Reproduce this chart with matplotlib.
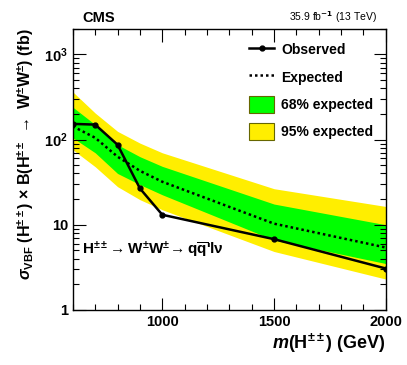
import numpy as np
import matplotlib.pyplot as plt

plt.rcParams['font.family'] = ['Liberation Sans', 'DejaVu Sans']
plt.rcParams['font.weight'] = 'bold'
plt.rcParams['axes.labelweight'] = 'bold'
plt.rcParams['mathtext.fontset'] = 'custom'
plt.rcParams['mathtext.rm'] = 'Liberation Sans:bold'
plt.rcParams['mathtext.bf'] = 'Liberation Sans:bold'
plt.rcParams['mathtext.it'] = 'Liberation Sans:italic:bold'
plt.rcParams['mathtext.sf'] = 'Liberation Sans:bold'

mass = [600, 700, 800, 900, 1000, 1500, 2000]
observed = [153, 150, 87, 26.7, 13.1, 6.77, 3.06]
expected = [143, 105, 63, 43, 32, 10.3, 5.4]
band68_lo = [105, 70, 40, 29.6, 22.5, 6.6, 3.5]
band68_hi = [240, 150, 87, 63, 48.5, 17.5, 10]
band95_lo = [76, 48, 28, 19.7, 15, 4.85, 2.3]
band95_hi = [363, 205, 125, 91, 70, 26.5, 16.4]

fig = plt.figure(figsize=(4.07, 3.65), dpi=100)
ax = fig.add_axes([0.179, 0.151, 0.769, 0.770])

ax.fill_between(mass, band95_lo, band95_hi, color='#ffee00', lw=0, label='95% expected')
ax.fill_between(mass, band68_lo, band68_hi, color='#00ff00', lw=0, label='68% expected')
ax.plot(mass, expected, color='black', ls=(0, (1, 1.2)), lw=1.8, label='Expected')
ax.plot(mass, observed, color='black', lw=1.8, marker='o', ms=3.5, label='Observed')

ax.set_yscale('log')
ax.set_xlim(600, 2000)
ax.set_ylim(1, 2000)
ax.set_xticks([1000, 1500, 2000])
ax.set_xticks(np.arange(600, 2001, 100), minor=True)
ax.set_yticks([1, 10, 100, 1000])
ax.set_yticklabels(['1', '10', r'$10^{2}$', r'$10^{3}$'])
ax.tick_params(which='both', direction='in', top=True, right=True, labelsize=10.5)
ax.tick_params(which='major', length=9, width=0.8)
ax.tick_params(which='minor', length=4.5, width=0.8)
for s in ax.spines.values():
    s.set_linewidth(1.0)

handles, labels = ax.get_legend_handles_labels()
order = [3, 2, 1, 0]
leg = ax.legend([handles[i] for i in order], [labels[i] for i in order],
                loc='upper right', bbox_to_anchor=(1.0, 1.0), frameon=False,
                fontsize=10, handlelength=1.8, handleheight=1.5, labelspacing=0.75,
                handletextpad=0.5, borderaxespad=0.5)
for p in leg.get_patches():
    p.set_edgecolor('#666600')
    p.set_linewidth(0.8)

ax.set_xlabel(r'$m$(H$^{\pm\pm}$) (GeV)', fontsize=13, ha='right', x=1.0, labelpad=2)
ax.set_ylabel(r'$\sigma_{\rm VBF}$ (H$^{\pm\pm}$) $\times$ B(H$^{\pm\pm}$ $\rightarrow$ W$^{\pm}$W$^{\pm}$) (fb)',
              fontsize=11.5, ha='right', y=1.0, labelpad=6)

ax.text(0.03, 1.012, 'CMS', transform=ax.transAxes, fontsize=10.5, fontweight='bold', va='bottom')
ax.text(0.97, 1.012, r'35.9 fb$^{-1}$ (13 TeV)', transform=ax.transAxes, fontsize=7.5,
        fontweight='normal', ha='right', va='bottom',
        math_fontfamily='dejavusans')
ax.text(0.03, 0.215, "H$^{\\pm\\pm}\\!\\rightarrow$W$^{\\pm}$W$^{\\pm}\\!\\rightarrow$q$\\overline{\\rm q}$'lν",
        transform=ax.transAxes, fontsize=11, fontweight='bold', va='center')

fig.savefig('out.png', dpi=100)
